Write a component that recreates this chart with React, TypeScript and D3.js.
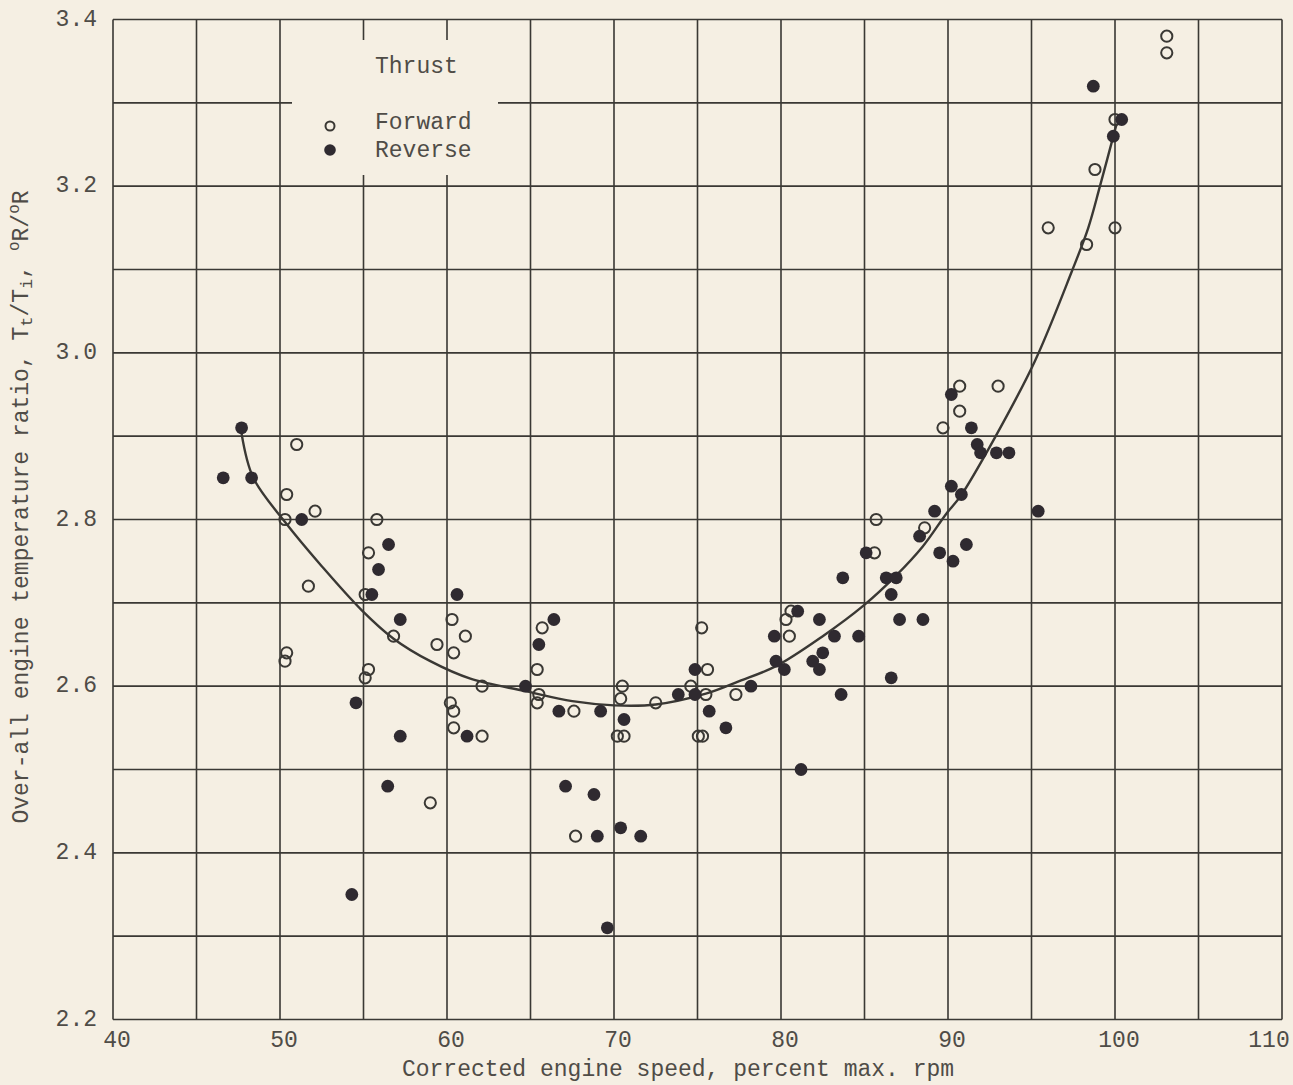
import React from "react";
import * as d3 from "d3";

const xTicks = [40, 50, 60, 70, 80, 90, 100, 110];
const yTicks = [2.2, 2.4, 2.6, 2.8, 3.0, 3.2, 3.4];

// Forward thrust (open symbols): [corrected engine speed %, temperature ratio]
const forward: [number, number][] = [
  [51.0, 2.89], [50.4, 2.83], [52.1, 2.81], [50.3, 2.8], [55.8, 2.8], [55.3, 2.76],
  [51.7, 2.72], [55.1, 2.71], [60.3, 2.68], [56.8, 2.66], [61.1, 2.66], [59.4, 2.65],
  [60.4, 2.64], [50.4, 2.64], [50.3, 2.63], [55.3, 2.62], [55.1, 2.61], [60.2, 2.58],
  [60.4, 2.57], [60.4, 2.55], [59.0, 2.46], [62.1, 2.6], [62.1, 2.54], [65.7, 2.67],
  [65.4, 2.62], [65.5, 2.59], [65.4, 2.58], [67.6, 2.57], [70.5, 2.6], [70.4, 2.585],
  [70.2, 2.54], [70.6, 2.54], [72.5, 2.58], [74.6, 2.6], [75.6, 2.62], [75.25, 2.67],
  [75.5, 2.59], [75.05, 2.54], [75.3, 2.54], [67.7, 2.42], [77.3, 2.59], [80.3, 2.68],
  [80.6, 2.69], [80.5, 2.66], [85.7, 2.8], [85.6, 2.76], [88.6, 2.79], [90.7, 2.96],
  [93.0, 2.96], [90.7, 2.93], [89.7, 2.91], [96.0, 3.15], [100.0, 3.15], [98.3, 3.13],
  [103.1, 3.38], [103.1, 3.36], [100.0, 3.28], [98.8, 3.22],
];

// Reverse thrust (filled symbols)
const reverse: [number, number][] = [
  [47.7, 2.91], [46.6, 2.85], [48.3, 2.85], [51.3, 2.8], [56.5, 2.77], [55.9, 2.74],
  [55.5, 2.71], [57.2, 2.68], [60.6, 2.71], [54.55, 2.58], [61.2, 2.54], [57.2, 2.54],
  [56.45, 2.48], [54.3, 2.35], [64.7, 2.6], [66.4, 2.68], [65.5, 2.65], [66.7, 2.57],
  [69.2, 2.57], [70.6, 2.56], [73.85, 2.59], [74.85, 2.59], [74.85, 2.62], [75.7, 2.57],
  [76.7, 2.55], [67.1, 2.48], [68.8, 2.47], [69.0, 2.42], [70.4, 2.43], [71.6, 2.42],
  [69.6, 2.31], [78.2, 2.6], [81.2, 2.5], [79.6, 2.66], [79.7, 2.63], [80.2, 2.62],
  [81.0, 2.69], [82.3, 2.68], [81.9, 2.63], [82.5, 2.64], [82.3, 2.62], [83.2, 2.66],
  [84.65, 2.66], [83.6, 2.59], [83.7, 2.73], [85.1, 2.76], [86.3, 2.73], [86.9, 2.73],
  [86.6, 2.71], [87.1, 2.68], [88.5, 2.68], [86.6, 2.61], [88.3, 2.78], [89.2, 2.81],
  [89.5, 2.76], [90.3, 2.75], [90.2, 2.95], [91.4, 2.91], [91.75, 2.89], [91.95, 2.88],
  [92.9, 2.88], [93.65, 2.88], [90.2, 2.84], [90.8, 2.83], [95.4, 2.81], [91.1, 2.77],
  [98.7, 3.32], [100.4, 3.28], [99.9, 3.26],
];

// Faired curve
const fitCurve: [number, number][] = [
  [47.7, 2.903], [48.4, 2.85], [50.3, 2.797], [52.5, 2.744], [54.9, 2.691], [56.8, 2.657],
  [59.0, 2.63], [61.4, 2.609], [64.7, 2.594], [67.5, 2.582], [70.0, 2.577], [72.5, 2.578],
  [75.5, 2.591], [77.5, 2.606], [79.7, 2.624], [82.5, 2.66], [84.9, 2.696], [86.9, 2.733],
  [88.5, 2.768], [89.9, 2.807], [90.75, 2.828], [92.8, 2.898], [95.2, 2.99], [97.4, 3.097],
  [98.4, 3.15], [99.1, 3.2], [100.1, 3.275],
];

const xTitle = "Corrected engine speed, percent max. rpm";
const legendTitle = "Thrust";
const legendLabels = ["Forward", "Reverse"];

export default function App() {
  const W = 1293;
  const H = 1085;
  const x = d3.scaleLinear().domain([40, 110]).range([113, 1282]);
  const y = d3.scaleLinear().domain([2.2, 3.4]).range([1019.5, 19.5]);

  const xGrid = d3.range(0, 15).map((i) => 40 + i * 5);
  const yGrid = d3.range(0, 13).map((i) => +(2.2 + i * 0.1).toFixed(1));
  const gap = { x0: 292, x1: 498, y0: 40, y1: 175 };

  const x0 = x(40), x1 = x(110), yTop = y(3.4), yBot = y(2.2);

  const segs: string[] = [];
  xGrid.forEach((v) => {
    const px = x(v);
    if (px > gap.x0 && px < gap.x1) {
      segs.push(`M${px},${yTop}V${gap.y0}`);
      segs.push(`M${px},${gap.y1}V${yBot}`);
    } else {
      segs.push(`M${px},${yTop}V${yBot}`);
    }
  });
  yGrid.forEach((v) => {
    const py = y(v);
    if (py > gap.y0 && py < gap.y1) {
      segs.push(`M${x0},${py}H${gap.x0}`);
      segs.push(`M${gap.x1},${py}H${x1}`);
    } else {
      segs.push(`M${x0},${py}H${x1}`);
    }
  });

  const line = d3
    .line<[number, number]>()
    .x((d) => x(d[0]))
    .y((d) => y(d[1]))
    .curve(d3.curveCatmullRom.alpha(0.5));

  const font = "'Liberation Mono', 'DejaVu Sans Mono', monospace";
  const textColor = "#4f4c47";
  const ink = "#3a3834";
  const dotFill = "#2f2a30";

  return (
    <svg
      width={W}
      height={H}
      style={{ position: "absolute", left: 0, top: 0, background: "#f5efe3" }}
      fontFamily={font}
    >
      <rect x={0} y={0} width={W} height={H} fill="#f5efe3" />
      <path d={segs.join("")} stroke={ink} strokeWidth={1.6} fill="none" />

      {yTicks.map((v) => (
        <text
          key={"yt" + v}
          x={97}
          y={y(v)}
          textAnchor="end"
          dominantBaseline="central"
          fontSize={23}
          fill={textColor}
        >
          {v.toFixed(1)}
        </text>
      ))}
      {xTicks.map((v, i) => (
        <text
          key={"xt" + v}
          x={x(v) + (i === xTicks.length - 1 ? -13 : 4)}
          y={1041}
          textAnchor="middle"
          dominantBaseline="central"
          fontSize={23}
          fill={textColor}
        >
          {v}
        </text>
      ))}
      <text
        x={678}
        y={1070}
        textAnchor="middle"
        dominantBaseline="central"
        fontSize={23}
        fill={textColor}
      >
        {xTitle}
      </text>
      <text
        transform={`translate(22,507) rotate(-90)`}
        textAnchor="middle"
        dominantBaseline="central"
        fontSize={23}
        fill={textColor}
      >
        Over-all engine temperature ratio, T
        <tspan fontSize={17} dy={5}>t</tspan>
        <tspan dy={-5}>/T</tspan>
        <tspan fontSize={17} dy={5}>i</tspan>
        <tspan dy={-5}>, </tspan>
        <tspan fontSize={16} dy={-7}>o</tspan>
        <tspan dy={7}>R/</tspan>
        <tspan fontSize={16} dy={-7}>o</tspan>
        <tspan dy={7}>R</tspan>
      </text>

      <path d={line(fitCurve) || ""} fill="none" stroke={ink} strokeWidth={2.4} />

      {forward.map((d, i) => (
        <circle
          key={"f" + i}
          cx={x(d[0])}
          cy={y(d[1])}
          r={5.6}
          fill="none"
          stroke={ink}
          strokeWidth={2}
        />
      ))}
      {reverse.map((d, i) => (
        <circle key={"r" + i} cx={x(d[0])} cy={y(d[1])} r={6.4} fill={dotFill} />
      ))}

      <text x={375} y={67} dominantBaseline="central" fontSize={23} fill={textColor}>
        {legendTitle}
      </text>
      <circle cx={330} cy={126} r={4.5} fill="none" stroke={ink} strokeWidth={2} />
      <circle cx={330} cy={150} r={5.8} fill={dotFill} />
      <text x={375} y={123} dominantBaseline="central" fontSize={23} fill={textColor}>
        {legendLabels[0]}
      </text>
      <text x={375} y={151} dominantBaseline="central" fontSize={23} fill={textColor}>
        {legendLabels[1]}
      </text>
    </svg>
  );
}
